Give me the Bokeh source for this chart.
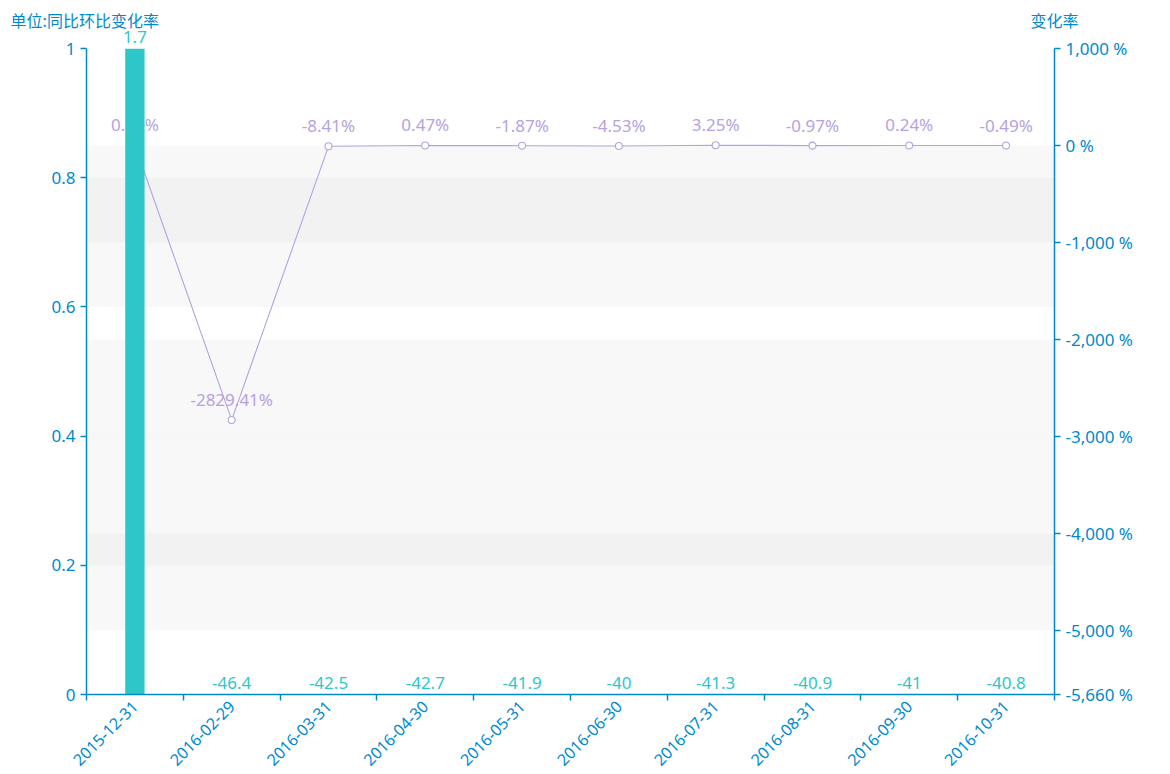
from bokeh.plotting import figure
from bokeh.models import (Range1d, LinearAxis, FixedTicker, CustomJSTickFormatter,
                          ColumnDataSource, Label)
from bokeh.embed import file_html
from bokeh.resources import INLINE
from bokeh.core.properties import value

# ---- data ----
dates = ["2015-12-31", "2016-02-29", "2016-03-31", "2016-04-30", "2016-05-31",
         "2016-06-30", "2016-07-31", "2016-08-31", "2016-09-30", "2016-10-31"]
bar_values = [1.7, -46.4, -42.5, -42.7, -41.9, -40, -41.3, -40.9, -41, -40.8]
rate_values = [0.35, -2829.41, -8.41, 0.47, -1.87, -4.53, 3.25, -0.97, 0.24, -0.49]
left_ticks = [0, 0.2, 0.4, 0.6, 0.8, 1]
right_ticks = [1000, 0, -1000, -2000, -3000, -4000, -5000, -5660]
left_title = "单位:同比环比变化率"
right_title = "变化率"

AXIS = "#008acd"
BAR = "#2ec7c9"
LINE = "#b6a2de"
FONT = "Noto Sans"
CJK = "Noto Sans CJK SC"

n = len(dates)
xs = list(range(n))

p = figure(width=1166, height=774, output_backend="svg", toolbar_location=None,
           x_range=Range1d(-0.5, n - 0.5),
           y_range=Range1d(left_ticks[0], left_ticks[-1]),
           min_border_left=86, min_border_right=112, min_border_top=48, min_border_bottom=79)
p.extra_y_ranges = {"pct": Range1d(right_ticks[-1], right_ticks[0])}
p.outline_line_color = None
p.xgrid.visible = False
p.ygrid.visible = False
p.background_fill_color = "white"

# ---- split-area bands (from axis ticks) ----
lb = [(left_ticks[i], left_ticks[i + 1]) for i in range(1, len(left_ticks) - 1, 2)]
p.quad(left=-0.5, right=n - 0.5, bottom=[a for a, b in lb], top=[b for a, b in lb],
       fill_color="#c8c8c8", fill_alpha=0.13, line_color=None, level="underlay")
rt = sorted(right_ticks)
rb = [(rt[i], rt[i + 1]) for i in range(1, len(rt) - 1, 2)]
p.quad(left=-0.5, right=n - 0.5, bottom=[a for a, b in rb], top=[b for a, b in rb],
       fill_color="#c8c8c8", fill_alpha=0.13, line_color=None, level="underlay",
       y_range_name="pct")

# ---- line series ----
lsrc = ColumnDataSource(dict(x=xs, y=rate_values,
                             t=[f"{v:g}%" for v in rate_values]))
p.line("x", "y", source=lsrc, y_range_name="pct", line_color=LINE, line_width=1.1)
p.scatter("x", "y", source=lsrc, y_range_name="pct", size=7, marker="circle",
          fill_color="white", line_color=LINE, line_width=1.1)
p.text("x", "y", text="t", source=lsrc, y_range_name="pct",
       text_align="center", text_baseline="bottom", y_offset=-9,
       text_color=LINE, text_font=value(FONT), text_font_size="17px")

# ---- bars ----
lo, hi = left_ticks[0], left_ticks[-1]
bsrc = ColumnDataSource(dict(x=xs, top=bar_values))
p.vbar(x="x", top="top", bottom=0, width=0.2, source=bsrc, fill_color=BAR, line_color=None)

inside = [(x, v) for x, v in zip(xs, bar_values) if v <= hi]
isrc = ColumnDataSource(dict(x=[a for a, b in inside],
                             y=[max(b, lo) for a, b in inside],
                             t=[f"{b:g}" for a, b in inside]))
p.text("x", "y", text="t", source=isrc, text_align="center", text_baseline="bottom",
       y_offset=-6, text_color=BAR, text_font=value(FONT), text_font_size="17px")

# labels of bars clipped at the top of the plot (kept outside the frame clip)
for x, v in zip(xs, bar_values):
    if v > hi:
        p.add_layout(Label(x=x, y=hi, y_offset=6, text=f"{v:g}",
                           text_align="center", text_baseline="bottom", text_color=BAR,
                           text_font=FONT, text_font_size="17px"), "left")

# ---- axes ----
def style_axis(ax):
    ax.axis_line_color = AXIS
    ax.axis_line_width = 1.5
    ax.major_tick_line_color = AXIS
    ax.major_tick_line_width = 1.5
    ax.major_tick_in = 0
    ax.major_tick_out = 6
    ax.minor_tick_line_color = None
    ax.major_label_text_color = AXIS
    ax.major_label_text_font = FONT
    ax.major_label_text_font_size = "17px"
    ax.major_label_standoff = 5

xa = p.xaxis[0]
style_axis(xa)
xa.ticker = FixedTicker(ticks=xs, minor_ticks=[i - 0.5 for i in range(n + 1)])
xa.major_tick_line_color = None
xa.major_tick_out = 0
xa.minor_tick_line_color = AXIS
xa.minor_tick_line_width = 1.5
xa.minor_tick_in = 0
xa.minor_tick_out = 6
xa.major_label_overrides = {i: d for i, d in enumerate(dates)}
xa.major_label_orientation = 0.785398
xa.major_label_text_font_size = "16px"
xa.major_label_standoff = 3

ya = p.yaxis[0]
style_axis(ya)
ya.ticker = FixedTicker(ticks=left_ticks)
ya.formatter = CustomJSTickFormatter(code="return String(Math.round(tick*10)/10);")

ra = LinearAxis(y_range_name="pct")
style_axis(ra)
ra.ticker = FixedTicker(ticks=right_ticks)
ra.formatter = CustomJSTickFormatter(
    code="return tick.toLocaleString('en-US') + ' %';")
p.add_layout(ra, "right")

# ---- axis names (outside the frame) ----
p.add_layout(Label(x=-0.5, y=hi, x_offset=-76, y_offset=29,
                   text=left_title, text_align="left", text_baseline="middle",
                   text_color=AXIS, text_font=CJK, text_font_size="16px"), "above")
p.add_layout(Label(x=n - 0.5, y=hi, y_offset=29,
                   text=right_title, text_align="center", text_baseline="middle",
                   text_color=AXIS, text_font=CJK, text_font_size="16px"), "above")

open("out.html", "w").write(file_html(p, INLINE))
